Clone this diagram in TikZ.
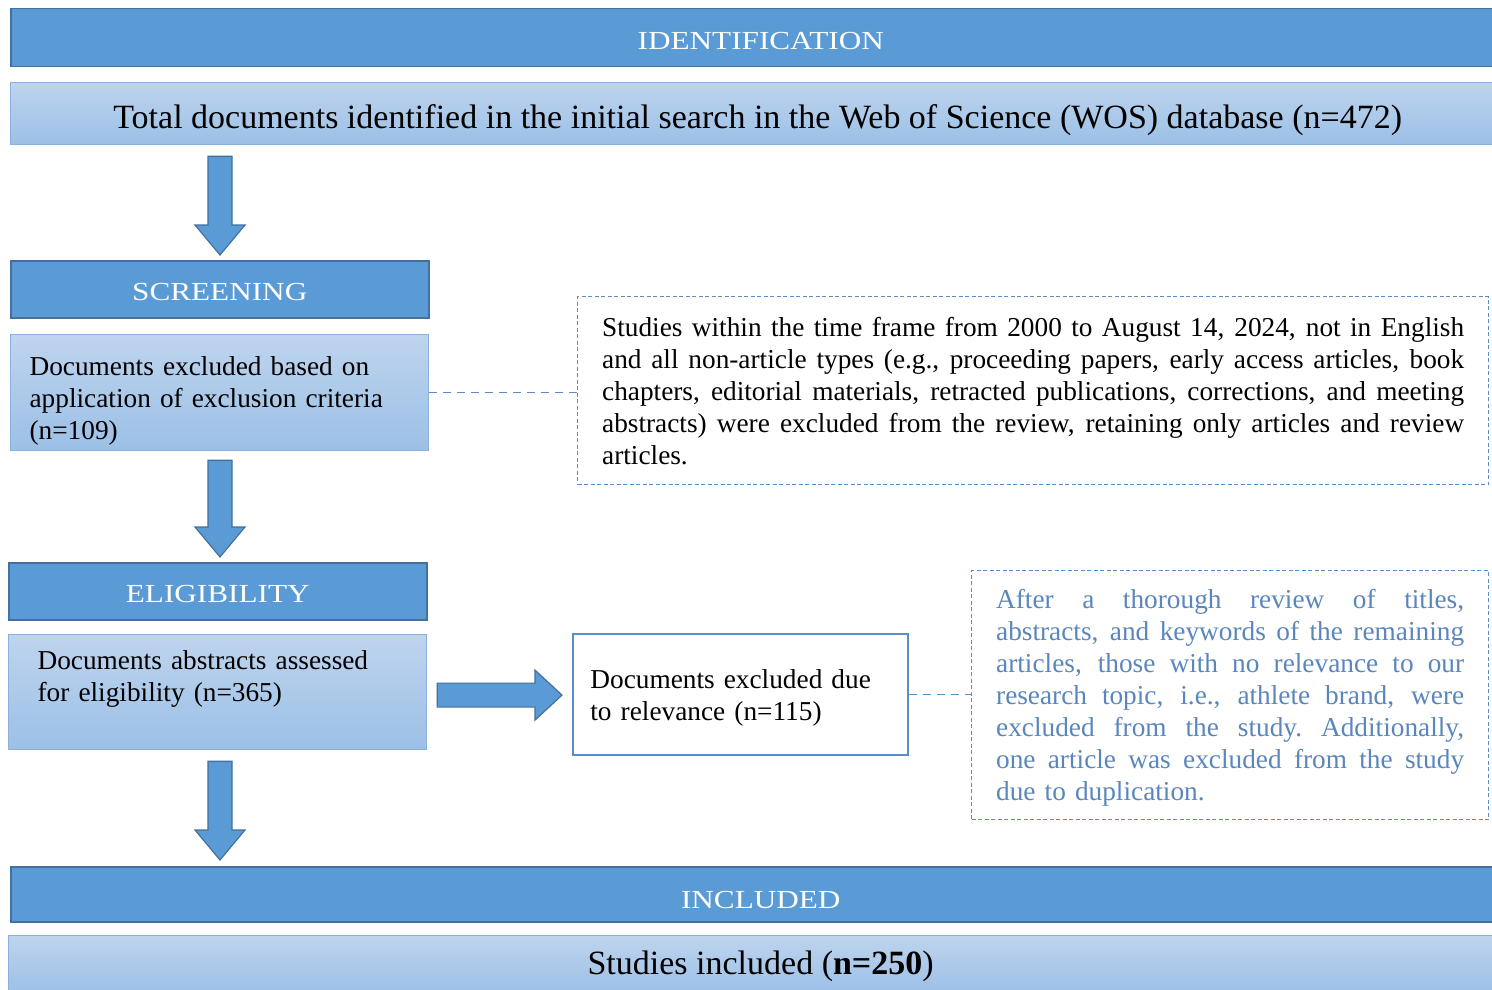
\documentclass[tikz,border=0pt]{standalone}
\usepackage{fontspec}
\setmainfont{Liberation Serif}
\usetikzlibrary{calc}
\definecolor{barblue}{HTML}{5B9BD5}
\definecolor{bardark}{HTML}{41719C}
\definecolor{lighttop}{HTML}{BED4EE}
\definecolor{lightbot}{HTML}{9CC0E6}
\definecolor{lightedge}{HTML}{8AB0DC}
\definecolor{noteblue}{HTML}{5B86BC}
\definecolor{dashblue}{HTML}{5A8ECA}
\newcommand\vblock[2]{\filldraw[blockarrow] let \p1=(#1), \p2=(#2) in
  (\x1-12pt,\y1) -- (\x1+12pt,\y1) -- (\x1+12pt,\y2+30pt) -- (\x1+25pt,\y2+30pt)
  -- (\x1,\y2) -- (\x1-25pt,\y2+30pt) -- (\x1-12pt,\y2+30pt) -- cycle;}
\newcommand\hblock[2]{\filldraw[blockarrow] let \p1=(#1), \p2=(#2) in
  (\x1,\y1+12pt) -- (\x1,\y1-12pt) -- (\x2-27pt,\y1-12pt) -- (\x2-27pt,\y1-25pt)
  -- (\x2,\y1) -- (\x2-27pt,\y1+25pt) -- (\x2-27pt,\y1+12pt) -- cycle;}
\newcommand\jl[2]{\leavevmode\hbox to #1{\spaceskip=0.25em plus 1fil minus 0.05em\relax
  \xspaceskip=\spaceskip #2}}
\newcommand\hdr[1]{\scalebox{1.2}[1]{#1}}
\begin{document}
\begin{tikzpicture}[x=1pt,y=-1pt,
  bar/.style={draw=bardark, line width=1.5pt, fill=barblue, text=white,
    font=\fontsize{26}{32}\selectfont, inner sep=0pt, anchor=north west,
    text height=23pt, text depth=0pt},
  lightbox/.style={draw=lightedge, line width=1.2pt, top color=lighttop,
    bottom color=lightbot, inner sep=0pt, anchor=north west},
  bodytext/.style={font=\fontsize{27.3}{32}\selectfont},
  bigtext/.style={font=\fontsize{34}{40}\selectfont, text depth=0pt},
  notebox/.style={draw=dashblue, line width=1.3pt, dash pattern=on 4pt off 2.5pt,
    anchor=north west, inner sep=0pt, fill=white},
  blockarrow/.style={fill=barblue, draw=bardark, line width=1.2pt},
  dashlink/.style={draw=dashblue, line width=1.4pt, dash pattern=on 8pt off 6pt}]
\useasboundingbox (0,0) rectangle (1492,990);
\clip (0,0) rectangle (1492,990);
\fill[white] (0,0) rectangle (1492,990);
\coordinate (colx) at (220,0);

% IDENTIFICATION
\node[bar, minimum width=1500pt, minimum height=58pt] (ident) at (10,8) {\hdr{IDENTIFICATION}};
\node[lightbox, bigtext, text height=29pt, minimum width=1494pt, minimum height=62pt]
  (total) at (10,82) {Total documents identified in the initial search in the Web of Science (WOS) database (n=472)};

% SCREENING
\node[bar, minimum width=418pt, minimum height=57pt] (screen) at (10,260) {\hdr{SCREENING}};
\node[lightbox, bodytext, minimum width=418pt, minimum height=116pt, text width=380pt,
  align=left, inner xsep=19pt] (excl) at (10,334)
  {\rule{0pt}{36pt}Documents excluded based on\\application of exclusion criteria\\(n=109)};
\node[notebox, bodytext, minimum width=911pt, minimum height=188pt, text width=862pt,
  align=left, inner xsep=24.5pt] (note1) at (577,296)
  {\jl{862pt}{Studies within the time frame from 2000 to August 14, 2024, not in English}\\
   \jl{862pt}{and all non-article types (e.g., proceeding papers, early access articles, book}\\
   \jl{862pt}{chapters, editorial materials, retracted publications, corrections, and meeting}\\
   \jl{862pt}{abstracts) were excluded from the review, retaining only articles and review}\\
   articles.};
\draw[dashlink] (excl.east) -- (excl.east -| note1.west);

% ELIGIBILITY
\node[bar, minimum width=418pt, minimum height=57pt] (elig) at (8,562) {\hdr{ELIGIBILITY}};
\node[lightbox, bodytext, minimum width=418pt, minimum height=115pt, text width=360pt,
  align=left, inner xsep=29pt] (abs) at (8,634)
  {Documents abstracts assessed\\for eligibility (n=365)\\\mbox{}};
\node[draw=dashblue, line width=1.8pt, fill=white, bodytext, anchor=north west,
  minimum width=335pt, minimum height=121pt, text width=300pt, align=left,
  inner xsep=17.5pt, inner ysep=0pt] (due) at (572,633)
  {\rule{0pt}{26pt}Documents excluded due\\to relevance (n=115)};
\node[notebox, bodytext, text=noteblue, minimum width=517pt, minimum height=249pt,
  text width=468pt, align=left, inner xsep=24.5pt] (note2) at (971,570)
  {\rule{0pt}{24pt}\jl{468pt}{After a thorough review of titles,}\\
   \jl{468pt}{abstracts, and keywords of the remaining}\\
   \jl{468pt}{articles, those with no relevance to our}\\
   \jl{468pt}{research topic, i.e., athlete brand, were}\\
   \jl{468pt}{excluded from the study. Additionally,}\\
   \jl{468pt}{one article was excluded from the study}\\
   due to duplication.};
\draw[dashlink] (due.east) -- (due.east -| note2.west);

% INCLUDED
\node[bar, text height=29pt, minimum width=1500pt, minimum height=55pt] (incl) at (10,866)
  {\hdr{INCLUDED}};
\node[lightbox, bigtext, text height=21pt, minimum width=1504pt, minimum height=57pt]
  (final) at (8,935) {Studies included (\textbf{n=250})};

% block arrows
\coordinate (a1s) at ([yshift=-11pt]total.south -| colx);
\coordinate (a1e) at ([yshift=5pt]screen.north -| colx);
\vblock{a1s}{a1e}
\coordinate (a2s) at ([yshift=-9pt]excl.south -| colx);
\coordinate (a2e) at ([yshift=5pt]elig.north -| colx);
\vblock{a2s}{a2e}
\coordinate (a3s) at ([yshift=-11pt]abs.south -| colx);
\coordinate (a3e) at ([yshift=6pt]incl.north -| colx);
\vblock{a3s}{a3e}
\coordinate (h1s) at ([xshift=10pt,yshift=-3pt]abs.east);
\coordinate (h1e) at ([xshift=-10pt]due.west);
\hblock{h1s}{h1e}
\end{tikzpicture}
\end{document}
